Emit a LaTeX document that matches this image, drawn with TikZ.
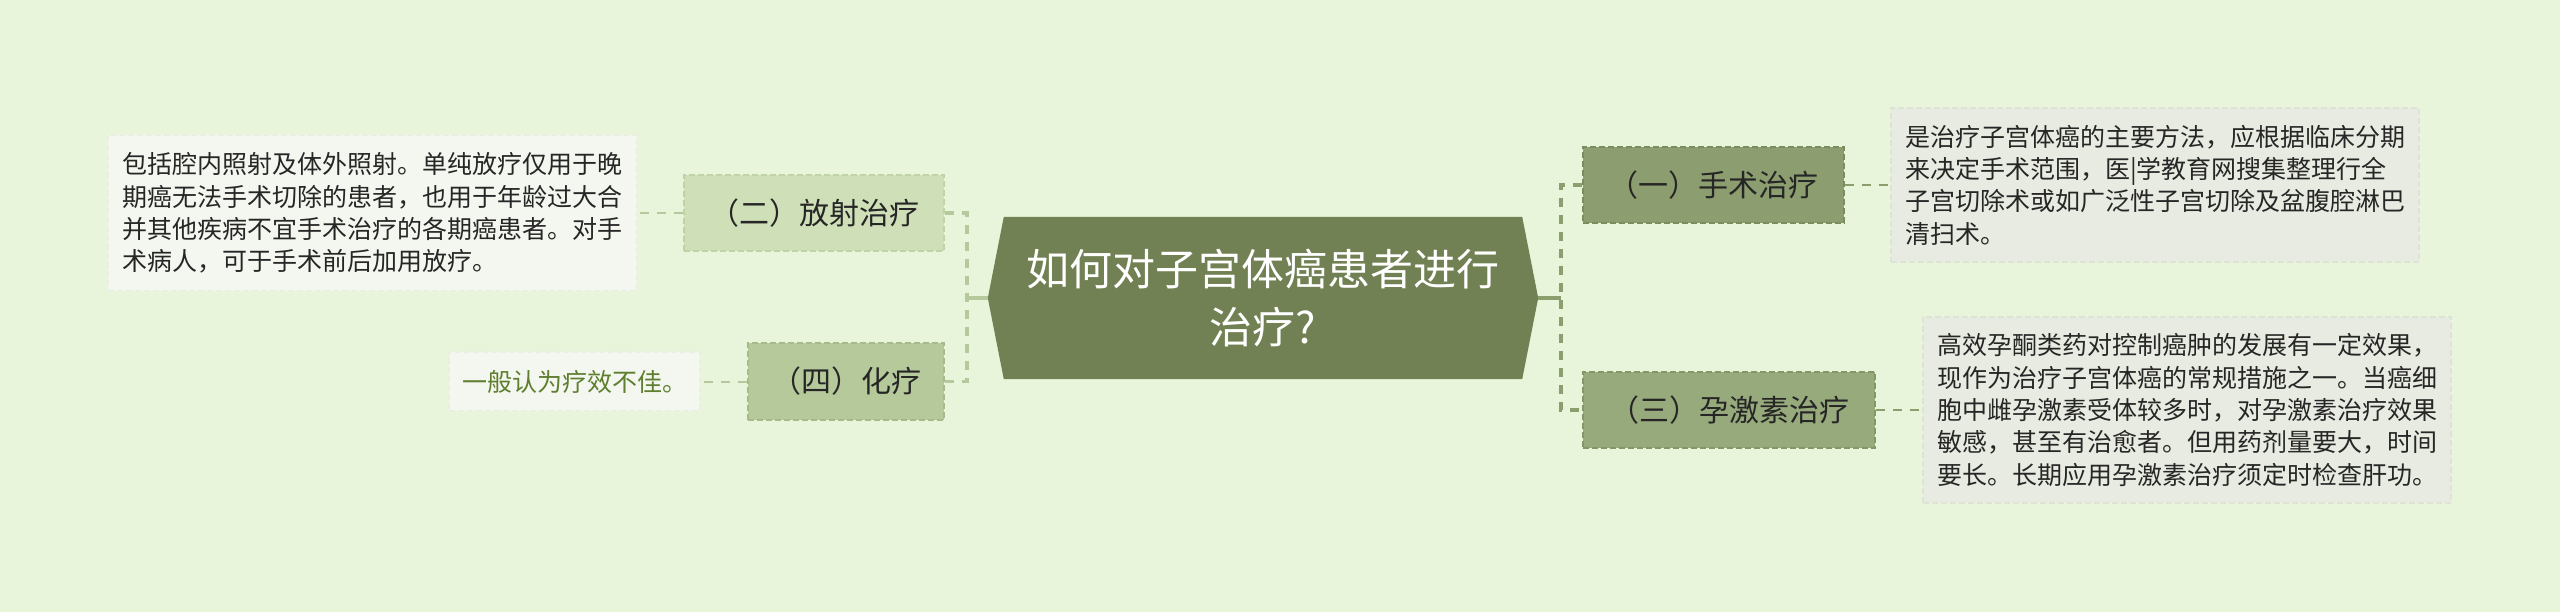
\documentclass[tikz,border=0pt]{standalone}
\usepackage{fontspec}
\setmainfont{Noto Sans CJK SC}
\usetikzlibrary{calc}
\definecolor{bgc}{HTML}{E8F5DB}
\definecolor{cfill}{HTML}{718153}
\definecolor{bonef}{HTML}{8C9E6F}
\definecolor{boned}{HTML}{7A8D5E}
\definecolor{bthreef}{HTML}{97AA7C}
\definecolor{bthreed}{HTML}{839769}
\definecolor{btwof}{HTML}{CFE0B8}
\definecolor{btwod}{HTML}{C0D3A7}
\definecolor{bfourf}{HTML}{B6C99B}
\definecolor{bfourd}{HTML}{A6BA8B}
\definecolor{rleaff}{HTML}{E8EBE1}
\definecolor{rleafd}{HTML}{DFE3D6}
\definecolor{lleaff}{HTML}{F4F7EF}
\definecolor{lleafd}{HTML}{EAEFE2}
\definecolor{rline}{HTML}{8A9E6E}
\definecolor{lline}{HTML}{B6C99D}
\definecolor{txt}{HTML}{262626}
\definecolor{gtxt}{HTML}{5F7F30}
\tikzset{
  branchbox/.style={draw, dashed, dash pattern=on 6pt off 3pt, line width=1.5pt, inner sep=0pt,
    text=txt, font=\fontsize{30}{36}\selectfont},
  leafbox/.style={draw, dashed, dash pattern=on 6pt off 3pt, line width=1.2pt, inner sep=0pt,
    text=txt, align=left, font=\fontsize{25}{32.3}\selectfont},
  rbracket/.style={draw=rline, line width=3.8pt, dash pattern=on 9pt off 8pt},
  lbracket/.style={draw=lline, line width=3.8pt, dash pattern=on 9pt off 8pt},
  rleafline/.style={draw=rline, line width=2pt, dash pattern=on 9pt off 8pt},
  lleafline/.style={draw=lline, line width=2pt, dash pattern=on 9pt off 8pt},
}
\begin{document}
\begin{tikzpicture}[x=1pt,y=-1pt]
\fill[bgc] (0,0) rectangle (2560,612);
\useasboundingbox (0,0) rectangle (2560,612);
% center
\node[minimum width=550pt, minimum height=162pt, inner sep=0pt] (c) at (1263,298) {};
\fill[cfill] (c.west) -- ([xshift=16pt]c.north west) -- ([xshift=-16pt]c.north east) -- (c.east)
  -- ([xshift=-16pt]c.south east) -- ([xshift=16pt]c.south west) -- cycle;
\node[text=white, align=center, font=\fontsize{43}{58}\selectfont] (ct) at (c.center) {如何对子宫体癌患者进行\\治疗?};
% branches
\node[branchbox, fill=bonef, draw=boned, minimum width=261pt, minimum height=76pt] (b1) at (1713.5,185) {（一）手术治疗};
\node[branchbox, fill=bthreef, draw=bthreed, minimum width=292pt, minimum height=76pt] (b3) at (1729,410) {（三）孕激素治疗};
\node[branchbox, fill=btwof, draw=btwod, minimum width=260pt, minimum height=76pt] (b2) at (814,213) {（二）放射治疗};
\node[branchbox, fill=bfourf, draw=bfourd, minimum width=196pt, minimum height=77pt] (b4) at (846,381.5) {（四）化疗};
% leaves
\node[leafbox, fill=rleaff, draw=rleafd, minimum width=528pt, minimum height=154pt] (l1) at (2155,185)
  {是治疗子宫体癌的主要方法，应根据临床分期\\来决定手术范围，医|学教育网搜集整理行全\\子宫切除术或如广泛性子宫切除及盆腹腔淋巴\\清扫术。};
\node[leafbox, fill=rleaff, draw=rleafd, minimum width=528pt, minimum height=186pt] (l3) at (2187,410)
  {高效孕酮类药对控制癌肿的发展有一定效果，\\现作为治疗子宫体癌的常规措施之一。当癌细\\胞中雌孕激素受体较多时，对孕激素治疗效果\\敏感，甚至有治愈者。但用药剂量要大，时间\\要长。长期应用孕激素治疗须定时检查肝功。};
\node[leafbox, fill=lleaff, draw=lleafd, minimum width=529pt, minimum height=156pt] (l2) at (372.5,213)
  {包括腔内照射及体外照射。单纯放疗仅用于晚\\期癌无法手术切除的患者，也用于年龄过大合\\并其他疾病不宜手术治疗的各期癌患者。对手\\术病人，可于手术前后加用放疗。};
\node[leafbox, fill=lleaff, draw=lleafd, text=gtxt, minimum width=251pt, minimum height=59pt] (l4) at (574.5,381.5)
  {一般认为疗效不佳。};
% brackets
\coordinate (rb) at (1561,298);
\coordinate (lb) at (967,298);
\draw[draw=rline, line width=3.5pt] (c.east) -- (rb);
\draw[draw=lline, line width=3.5pt] (c.west) -- (lb);
\draw[rbracket] (b1.west) -| (rb) |- (b3.west);
\draw[lbracket] (b2.east) -| (lb) |- (b4.east);
% leaf connectors
\draw[rleafline] (b1.east) -- (l1.west);
\draw[rleafline] (b3.east) -- (l3.west);
\draw[lleafline] (b2.west) -- (l2.east);
\draw[lleafline] (b4.west) -- (l4.east);
\end{tikzpicture}
\end{document}
